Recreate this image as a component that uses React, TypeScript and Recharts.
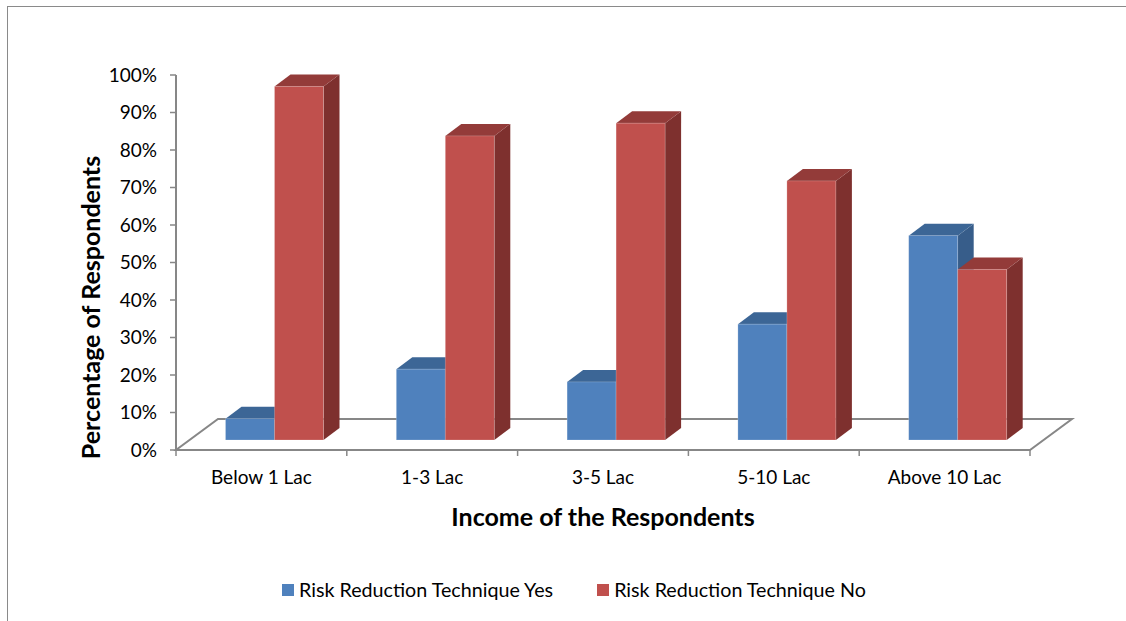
import React from "react";
import { Bar, BarChart, Legend, ReferenceArea, XAxis, YAxis } from "recharts";

const categories = ["Below 1 Lac", "1-3 Lac", "3-5 Lac", "5-10 Lac", "Above 10 Lac"];
const yesValues = [5.7, 18.9, 15.5, 30.9, 54.5];
const noValues = [94.3, 81.1, 84.5, 69.1, 45.5];
const yTicks = [0, 10, 20, 30, 40, 50, 60, 70, 80, 90, 100];
const seriesNames = ["Risk Reduction Technique Yes", "Risk Reduction Technique No"];

const data = categories.map((category, i) => ({
  category,
  yes: yesValues[i],
  no: noValues[i],
}));

const FONT = "Lato, 'Open Sans', sans-serif";
const GRID = "#878787";

// oblique projection: bars sit part way into the floor
const SHIFT_X = 13.5;
const SHIFT_Y = -10;
const DEPTH_X = 16;
const DEPTH_Y = -12;
const FLOOR_X = 42;
const FLOOR_Y = -31;

function make3DBar(front: string, top: string, side: string) {
  return (props: any) => {
    const { x, y, width, height } = props;
    if (x == null || y == null || !height) return null;
    const fx = x + SHIFT_X;
    const fy = y + SHIFT_Y;
    const topPts = `${fx},${fy} ${fx + DEPTH_X},${fy + DEPTH_Y} ${fx + width + DEPTH_X},${fy + DEPTH_Y} ${fx + width},${fy}`;
    const sidePts = `${fx + width},${fy} ${fx + width + DEPTH_X},${fy + DEPTH_Y} ${fx + width + DEPTH_X},${fy + height + DEPTH_Y} ${fx + width},${fy + height}`;
    return (
      <g>
        <polygon points={sidePts} fill={side} />
        <polygon points={topPts} fill={top} />
        <rect x={fx} y={fy} width={width} height={height} fill={front} stroke="rgba(255,255,255,0.25)" strokeWidth={0.8} />
      </g>
    );
  };
}

const Floor = (props: any) => {
  const { x, y, width, height } = props;
  const base = y + height;
  const n = categories.length;
  const pts = `${x},${base} ${x + width},${base} ${x + width + FLOOR_X},${base + FLOOR_Y} ${x + FLOOR_X},${base + FLOOR_Y}`;
  return (
    <g>
      <polygon points={pts} fill="none" stroke={GRID} strokeWidth={2} strokeLinejoin="miter" />
      {Array.from({ length: n + 1 }, (_, i) => (
        <line
          key={i}
          x1={x + (i * width) / n}
          x2={x + (i * width) / n}
          y1={base}
          y2={base + 6}
          stroke={GRID}
          strokeWidth={1.5}
        />
      ))}
    </g>
  );
};

const CategoryTick = (props: any) => {
  const { x, y, payload } = props;
  return (
    <text x={x} y={y + 34} textAnchor="middle" fill="#000" fontSize={19} fontFamily={FONT}>
      {payload.value}
    </text>
  );
};

const LegendContent = (props: any) => {
  const items = [...(props.payload || [])].sort(
    (a: any, b: any) => seriesNames.indexOf(a.value) - seriesNames.indexOf(b.value)
  );
  return (
    <div style={{ display: "flex", alignItems: "center", fontFamily: FONT, fontSize: 19.7, color: "#000" }}>
      {items.map((item: any, i: number) => (
        <div key={i} style={{ display: "flex", alignItems: "center", marginRight: 44 }}>
          <span style={{ display: "inline-block", width: 12, height: 12, background: item.color, marginRight: 5 }} />
          <span>{item.value}</span>
        </div>
      ))}
    </div>
  );
};

export default function App() {
  return (
    <div style={{ position: "absolute", left: 0, top: 0, width: 1126, height: 621, overflow: "hidden", background: "#fff" }}>
      <div
        style={{
          position: "absolute",
          left: 7,
          top: 6,
          width: 1200,
          height: 700,
          border: "1.5px solid #8a8a8a",
        }}
      />
      <div style={{ position: "absolute", left: 0, top: 0 }}>
        <BarChart
          width={1126}
          height={621}
          data={data}
          margin={{ top: 75, right: 96, bottom: 131, left: 76 }}
          barGap={0}
          barSize={49}
        >
          <ReferenceArea y1={0} y2={100} shape={Floor} ifOverflow="visible" />
          <XAxis
            dataKey="category"
            axisLine={false}
            tickLine={false}
            tickSize={0}
            tickMargin={0}
            height={40}
            interval={0}
            tick={<CategoryTick />}
            label={{
              content: (p: any) => {
                const vb = p.viewBox;
                return (
                  <text
                    x={vb.x + vb.width / 2}
                    y={vb.y + 76}
                    textAnchor="middle"
                    fontFamily={FONT}
                    fontWeight="bold"
                    fontSize={25}
                    fill="#000"
                  >
                    Income of the Respondents
                  </text>
                );
              },
            }}
          />
          <YAxis
            domain={[0, 100]}
            ticks={yTicks}
            interval={0}
            width={100}
            tickFormatter={(v: number) => `${v}%`}
            axisLine={{ stroke: GRID, strokeWidth: 2 }}
            tickLine={{ stroke: GRID, strokeWidth: 1.5 }}
            tickSize={6}
            tickMargin={13}
            tick={{ fill: "#000", fontSize: 19, fontFamily: FONT }}
            label={{
              content: (p: any) => {
                const vb = p.viewBox;
                const cx = vb.x + 14;
                const cy = vb.y + vb.height / 2 + 45;
                return (
                  <text
                    x={cx}
                    y={cy}
                    transform={`rotate(-90 ${cx} ${cy})`}
                    textAnchor="middle"
                    dominantBaseline="central"
                    fontFamily={FONT}
                    fontWeight="bold"
                    fontSize={25}
                    fill="#000"
                  >
                    Percentage of Respondents
                  </text>
                );
              },
            }}
          />
          <Bar
            dataKey="yes"
            name={seriesNames[0]}
            fill="#4F81BD"
            shape={make3DBar("#4F81BD", "#3C6696", "#375D8A")}
            isAnimationActive={false}
          />
          <Bar
            dataKey="no"
            name={seriesNames[1]}
            fill="#C0504D"
            shape={make3DBar("#C0504D", "#933B39", "#7E302E")}
            isAnimationActive={false}
          />
          <Legend
            layout="horizontal"
            verticalAlign="middle"
            align="center"
            content={<LegendContent />}
            wrapperStyle={{ left: 282, top: 578, width: "auto" }}
          />
        </BarChart>
      </div>
    </div>
  );
}
